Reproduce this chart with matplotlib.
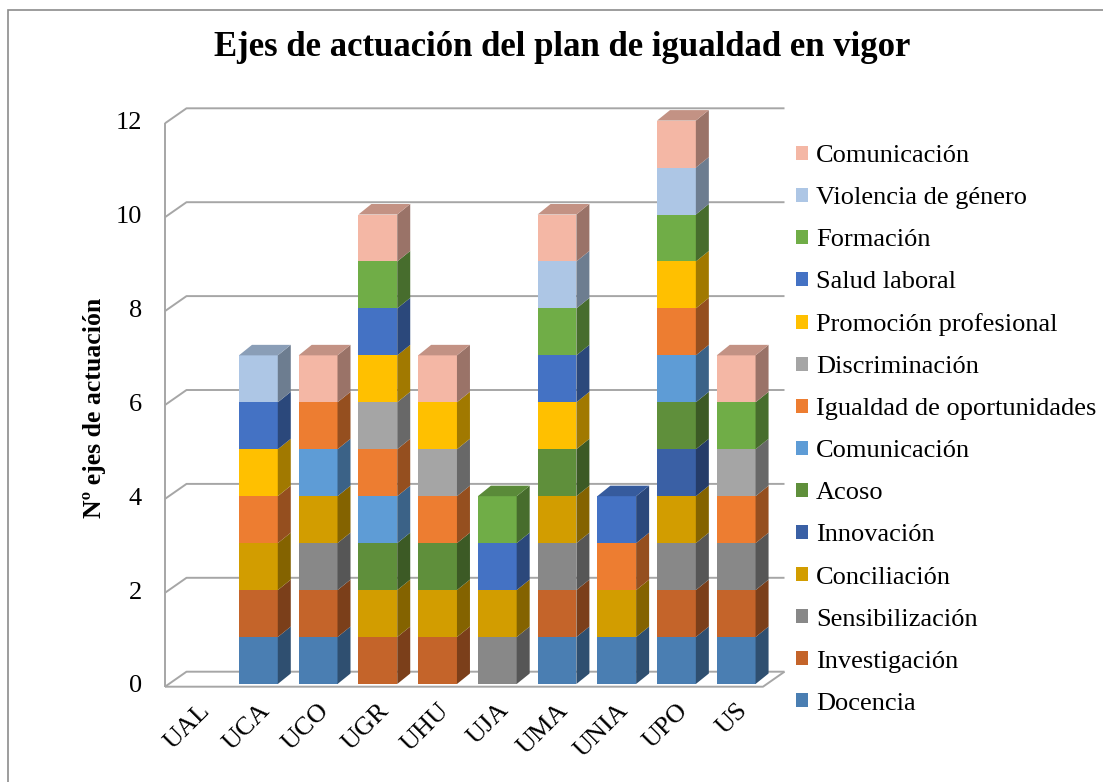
import numpy as np
import matplotlib
matplotlib.use('agg')
from matplotlib import pyplot as plt
from matplotlib.patches import Polygon, Patch, Rectangle
from matplotlib.colors import to_rgb

universidades = ['UAL', 'UCA', 'UCO', 'UGR', 'UHU', 'UJA', 'UMA', 'UNIA', 'UPO', 'US']

ejes = ['Docencia', 'Investigación', 'Sensibilización', 'Conciliación', 'Innovación',
        'Acoso', 'Comunicación', 'Igualdad de oportunidades', 'Discriminación',
        'Promoción profesional', 'Salud laboral', 'Formación', 'Violencia de género',
        'Comunicación']

colores = ['#4A7EB2', '#C4642A', '#888888', '#D29D00', '#3A60A5', '#5F8F3B', '#5E9CD6',
           '#ED7D31', '#A5A5A5', '#FFC000', '#4472C4', '#70AD47', '#ADC6E5', '#F4B7A5']

# one list per eje, values per universidad (UAL ... US)
docencia        = [0, 1, 1, 0, 0, 0, 1, 1, 1, 1]
investigacion   = [0, 1, 1, 1, 1, 0, 1, 0, 1, 1]
sensibilizacion = [0, 0, 1, 0, 0, 1, 1, 0, 1, 1]
conciliacion    = [0, 1, 1, 1, 1, 1, 1, 1, 1, 0]
innovacion      = [0, 0, 0, 0, 0, 0, 0, 0, 1, 0]
acoso           = [0, 0, 0, 1, 1, 0, 1, 0, 1, 0]
comunicacion_a  = [0, 0, 1, 1, 0, 0, 0, 0, 1, 0]
igualdad        = [0, 1, 1, 1, 1, 0, 0, 1, 1, 1]
discriminacion  = [0, 0, 0, 1, 1, 0, 0, 0, 0, 1]
promocion       = [0, 1, 0, 1, 1, 0, 1, 0, 1, 0]
salud           = [0, 1, 0, 1, 0, 1, 1, 1, 0, 0]
formacion       = [0, 0, 0, 1, 0, 1, 1, 0, 1, 1]
violencia       = [0, 1, 0, 0, 0, 0, 1, 0, 1, 0]
comunicacion_b  = [0, 0, 1, 1, 1, 0, 1, 0, 1, 1]

valores = [docencia, investigacion, sensibilizacion, conciliacion, innovacion, acoso,
           comunicacion_a, igualdad, discriminacion, promocion, salud, formacion,
           violencia, comunicacion_b]

plt.rcParams['font.family'] = ['Liberation Serif', 'DejaVu Serif']

W, H = 1103, 782
fig = plt.figure(figsize=(W / 100, H / 100), dpi=100)
ax = fig.add_axes([167 / W, (H - 684) / H, (765 - 167) / W, (684 - 120.6) / H])
ax.patch.set_visible(False)
n = len(universidades)
ax.set_xlim(-0.53, n - 1 + 0.483)
ax.set_ylim(0, 12)
for s in ax.spines.values():
    s.set_visible(False)
ax.set_yticks(range(0, 13, 2))
ax.set_xticks(range(n))
ax.set_xticklabels(universidades, rotation=45, ha='right', va='top', rotation_mode='anchor')
ax.tick_params(axis='y', length=0, labelsize=19, pad=18)
ax.tick_params(axis='x', length=0, labelsize=19, pad=11)


def shift(px, py):
    # pixel offset -> data offset
    inv = ax.transData.inverted()
    a = inv.transform((0, 0))
    b = inv.transform((px, py))
    return b[0] - a[0], b[1] - a[1]


def shade(c, f):
    return tuple(v * f for v in to_rgb(c))


# walls and floor
fx, fy = shift(-2, -2.7)
bx, by = shift(19.5, 12.3)
x0, x1 = ax.get_xlim()
grid = dict(color='#A6A6A6', lw=1.4, zorder=1, clip_on=False, solid_capstyle='butt')
for t in range(0, 13, 2):
    ax.plot([x0 + fx, x0 + bx, x1 + bx], [t + fy, t + by, t + by], **grid)
ax.plot([x0 + fx, x0 + fx], [fy, 12 + fy], **grid)
ax.plot([x0 + fx, x1 + fx, x1 + bx], [fy, fy, by], **grid)

# 3d-looking stacked bars
w = 0.65
ddx, ddy = shift(13, 10.5)
bottoms = np.zeros(n)
tops = np.sum(valores, axis=0)
for vals, col in zip(valores, colores):
    vals = np.array(vals, dtype=float)
    ax.bar(range(n), vals, w, bottom=bottoms, color=col, lw=0, zorder=3)
    for i, v in enumerate(vals):
        if v == 0:
            continue
        xl, xr = i - w / 2, i + w / 2
        b, t = bottoms[i], bottoms[i] + v
        ax.add_patch(Polygon([(xr, b), (xr + ddx, b + ddy), (xr + ddx, t + ddy), (xr, t)],
                             fc=shade(col, 0.63), lw=0, zorder=3, clip_on=False))
        if t == tops[i]:
            ax.add_patch(Polygon([(xl, t), (xr, t), (xr + ddx, t + ddy), (xl + ddx, t + ddy)],
                                 fc=shade(col, 0.8), lw=0, zorder=3, clip_on=False))
    bottoms += vals

fig.text(562 / W, 1 - 48 / H, 'Ejes de actuación del plan de igualdad en vigor',
         ha='center', va='center', fontsize=25, fontweight='bold')
fig.text(95 / W, 1 - 408 / H, 'Nº ejes de actuación', ha='center', va='center',
         rotation=90, fontsize=18.5, fontweight='bold')

handles = [Patch(fc=c, lw=0) for c in colores][::-1]
fig.legend(handles, ejes[::-1], loc='upper left', bbox_to_anchor=(796 / W, 1 - 145 / H),
           frameon=False, fontsize=19, handlelength=0.45, handleheight=0.45,
           handletextpad=0.3, labelspacing=0.76, borderpad=0, borderaxespad=0)

fig.add_artist(Rectangle((8 / W, -0.1), 1.2, 1.1 - 10 / H, transform=fig.transFigure,
                         fill=False, ec='#8C8C8C', lw=1.2))

fig.savefig('out.png', dpi=100)
